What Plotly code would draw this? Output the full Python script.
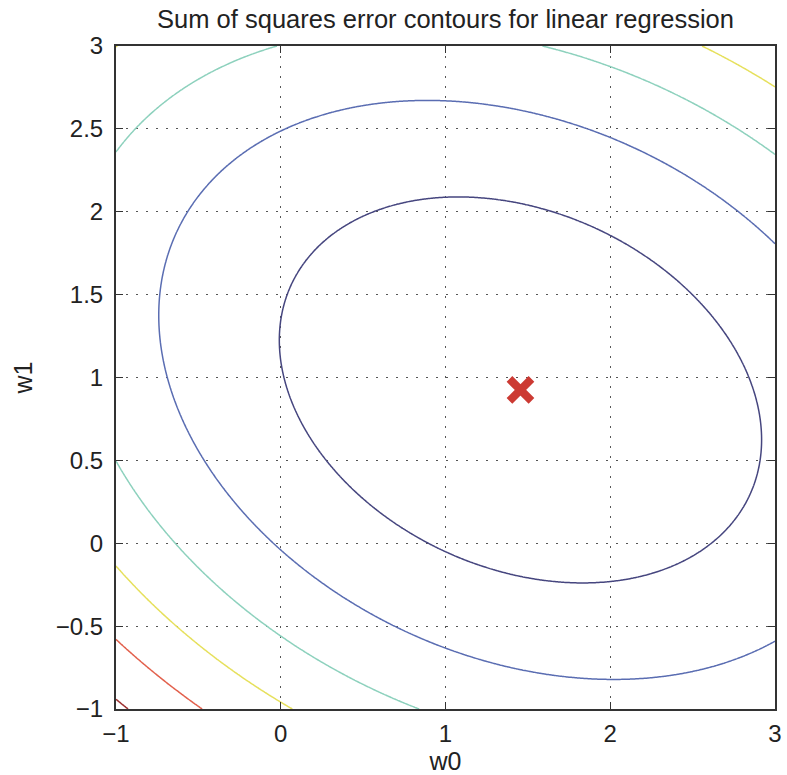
import numpy as np
import plotly.graph_objects as go

# Quadratic SSE surface parameters
w_min = [1.455, 0.925]            # location of the minimum (red cross)
quad_coeffs = [1.0, 0.324, 1.58]  # A, B, C in A*dx^2 + 2B*dx*dy + C*dy^2
levels = [2.0, 4.5, 7.0, 9.5, 12.0, 14.5]
level_colors = ["#46467f", "#5a6db2", "#8dd1bd", "#e6e05c", "#e2604c", "#9e3232"]

x_ticks = [-1, 0, 1, 2, 3]
x_ticktext = ["\u22121", "0", "1", "2", "3"]
y_ticks = [-1, -0.5, 0, 0.5, 1, 1.5, 2, 2.5, 3]
y_ticktext = ["\u22121", "\u22120.5", "0", "0.5", "1", "1.5", "2", "2.5", "3"]

w0 = np.linspace(-1, 3, 401)
w1 = np.linspace(-1, 3, 401)
W0, W1 = np.meshgrid(w0, w1)
dx = W0 - w_min[0]
dy = W1 - w_min[1]
A, B, C = quad_coeffs
Z = A * dx**2 + 2 * B * dx * dy + C * dy**2

fig = go.Figure()
for lv, col in zip(levels, level_colors):
    fig.add_trace(go.Contour(
        x=w0, y=w1, z=Z,
        contours=dict(start=lv, end=lv, size=1, coloring="none"),
        line=dict(color=col, width=1.5),
        showscale=False, hoverinfo="skip",
    ))

fig.add_trace(go.Scatter(
    x=[w_min[0]], y=[w_min[1]], mode="markers",
    marker=dict(symbol="x-thin", size=22, color="#cc3a33",
                line=dict(color="#cc3a33", width=8)),
    showlegend=False, hoverinfo="skip",
))

axis_common = dict(
    showline=True, linecolor="#333333", linewidth=2, mirror="ticks",
    ticks="inside", ticklen=7, tickcolor="#333333", tickwidth=1.2,
    showgrid=True, gridcolor="#555555", griddash="1.5px,8.5px", gridwidth=1.2,
    zeroline=False, tickfont=dict(size=24, color="#222222"),
    automargin=False,
)

fig.update_layout(
    width=787, height=775,
    margin=dict(l=116, r=12, t=46, b=66),
    paper_bgcolor="white", plot_bgcolor="white",
    font=dict(family="Liberation Sans, Arial, sans-serif", color="#222222"),
    title=dict(text="Sum of squares error contours for linear regression",
               x=0.5, xanchor="center", xref="paper",
               y=1 - 19 / 775, yanchor="middle", yref="container",
               font=dict(size=25.5, color="#222222"), automargin=False),
    showlegend=False,
    xaxis=dict(range=[-1, 3], tickvals=x_ticks, ticktext=x_ticktext,
               ticklabelstandoff=2,
               title=dict(text="w0", font=dict(size=25), standoff=2), **axis_common),
    yaxis=dict(range=[-1, 3], tickvals=y_ticks, ticktext=y_ticktext,
               ticklabelstandoff=6,
               title=dict(text="w1", font=dict(size=25), standoff=16), **axis_common),
)

fig.write_html(
    "out.html",
    config={"displayModeBar": False},
    post_script="document.body.style.margin='0';document.body.style.overflow='hidden';",
)
